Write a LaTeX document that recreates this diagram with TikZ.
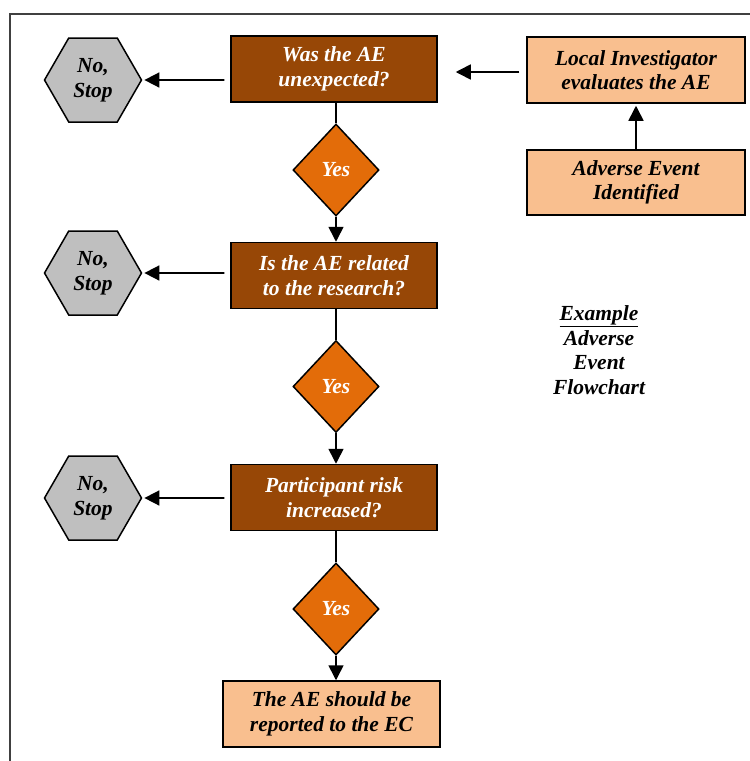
\documentclass[tikz,border=0pt]{standalone}
\usepackage{fontspec}
\setmainfont{Liberation Serif}
\usetikzlibrary{shapes.geometric, arrows.meta}
\definecolor{aebrown}{HTML}{974706}
\definecolor{aeorange}{HTML}{E36C09}
\definecolor{aepeach}{HTML}{F9BF8F}
\definecolor{aegray}{HTML}{BFBFBF}
\definecolor{framegray}{HTML}{404040}

\begin{document}
\begin{tikzpicture}[x=1pt, y=-1pt]
\tikzset{every node/.style={font=\fontsize{21.5}{24.5}\selectfont\bfseries\itshape, align=center, line width=1.5pt, draw},
  question/.style={rectangle, fill=aebrown, text=white, minimum width=206pt, minimum height=66pt, inner sep=2pt},
  yes/.style={diamond, fill=aeorange, text=white, minimum width=86pt, minimum height=92pt, inner sep=0pt},
  stop/.style={regular polygon, regular polygon sides=6, fill=aegray, minimum size=97pt, inner sep=0pt},
  report/.style={rectangle, fill=aepeach, minimum width=218pt, minimum height=66pt, inner sep=2pt},
  flow/.style={line width=1.6pt, -{Triangle[length=15pt, width=15pt]}},
  link/.style={line width=1.6pt}}

% Page size and outer frame
\useasboundingbox (0,0) rectangle (750,761);
\clip (0,0) rectangle (750,761);
\draw [framegray, line width=1.4pt] (10,780) -- (10,14) -- (770,14);

% Start of the chain
\node [report] (LI) at (636,70) {Local Investigator\\evaluates the AE};
\node [report, minimum height=65pt] (AE) at (636,182.5) {Adverse Event\\Identified};

% Questions, yes diamonds and stops
\node [question] (Q1) at (334,69) {Was the AE\\unexpected?};
\node [yes] (Y1) at (336,170) {Yes};
\node [question] (Q2) at (334,275.5) {Is the AE related\\to the research?};
\node [yes] (Y2) at (336,386.5) {Yes};
\node [question] (Q3) at (334,497.5) {Participant risk\\increased?};
\node [yes] (Y3) at (336,609) {Yes};
\node [report, minimum width=217pt] (R) at (331.5,714) {The AE should be\\reported to the EC};

\node [stop] (N1) at (93,80) {No,\\Stop};
\node [stop] (N2) at (93,273) {No,\\Stop};
\node [stop] (N3) at (93,498) {No,\\Stop};

\node [draw=none] (Title) at (599,350) {\underline{Example}\\Adverse\\Event\\Flowchart};

% Connectors
\draw [flow, shorten >= 2pt] (AE.north) -- (LI.south);
\draw [flow, shorten <= 7pt, shorten >= 18pt] ([yshift=-2pt]LI.west) -- ([yshift=-2pt]LI.west -| Q1.east);

\draw [link] (Y1.north |- Q1.south) -- (Y1.north);
\draw [flow] (Y1.south) -- (Y1.south |- Q2.north);
\draw [link] (Y2.north |- Q2.south) -- (Y2.north);
\draw [flow] (Y2.south) -- (Y2.south |- Q3.north);
\draw [link] (Y3.north |- Q3.south) -- (Y3.north);
\draw [flow] (Y3.south) -- (Y3.south |- R.north);

\draw [flow, shorten <= 6pt, shorten >= 2pt] (Q1.west |- N1) -- (N1.east);
\draw [flow, shorten <= 6pt, shorten >= 2pt] (Q2.west |- N2) -- (N2.east);
\draw [flow, shorten <= 6pt, shorten >= 2pt] (Q3.west |- N3) -- (N3.east);

\end{tikzpicture}
\end{document}
